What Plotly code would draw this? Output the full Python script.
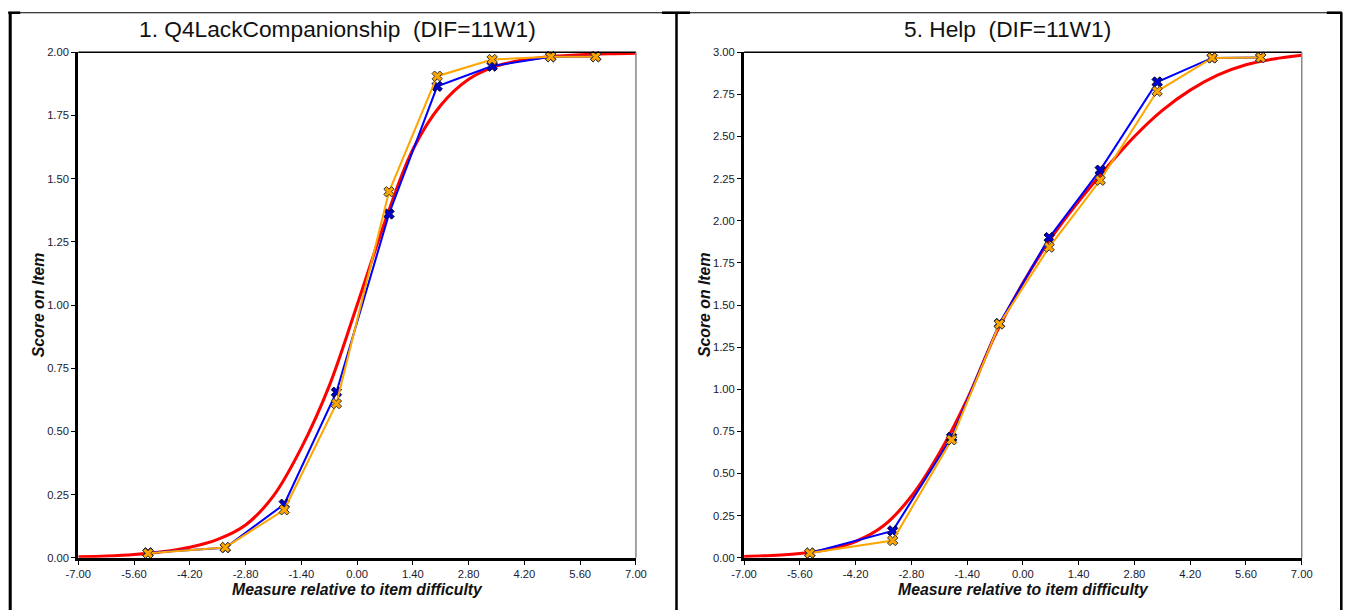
import plotly.graph_objects as go

# ---------------- data ----------------
x_tick_vals = [-7.0, -5.6, -4.2, -2.8, -1.4, 0.0, 1.4, 2.8, 4.2, 5.6, 7.0]
left_y_ticks = [0.0, 0.25, 0.5, 0.75, 1.0, 1.25, 1.5, 1.75, 2.0]
right_y_ticks = [0.0, 0.25, 0.5, 0.75, 1.0, 1.25, 1.5, 1.75, 2.0, 2.25, 2.5, 2.75, 3.0]

left_title = "1. Q4LackCompanionship \u00a0(DIF=11W1)"
right_title = "5. Help \u00a0(DIF=11W1)"
x_title = "Measure relative to item difficulty"
y_title = "Score on Item"

# left panel: observed points
left_x = [-5.25, -3.31, -1.83, -0.52, 0.80, 2.01, 3.39, 4.86, 5.99]
left_blue = [0.020, 0.040, 0.212, 0.655, 1.360, 1.865, 1.945, 1.982, 1.982]
left_orange = [0.018, 0.041, 0.190, 0.610, 1.448, 1.905, 1.971, 1.982, 1.982]
# left panel: model curve
left_curve_x = [-7.0, -6.3, -5.6, -4.9, -4.2, -3.5, -2.8, -2.1, -1.4, -0.7, 0.0,
                0.7, 1.4, 2.1, 2.8, 3.5, 4.2, 4.9, 5.6, 6.3, 7.0]
left_curve_y = [0.004, 0.007, 0.013, 0.024, 0.042, 0.073, 0.130, 0.245, 0.435, 0.680, 1.000,
                1.330, 1.615, 1.790, 1.893, 1.945, 1.970, 1.983, 1.990, 1.994, 1.996]

# right panel: observed points
right_x = [-5.35, -3.27, -1.79, -0.59, 0.66, 1.94, 3.37, 4.75, 5.97]
right_blue = [0.028, 0.160, 0.715, 1.390, 1.900, 2.300, 2.823, 2.966, 2.968]
right_orange = [0.028, 0.103, 0.700, 1.387, 1.843, 2.240, 2.768, 2.966, 2.968]
# right panel: model curve
right_curve_x = [-7.0, -6.3, -5.6, -4.9, -4.2, -3.5, -2.8, -2.1, -1.4, -0.7, 0.0,
                 0.7, 1.4, 2.1, 2.8, 3.5, 4.2, 4.9, 5.6, 6.3, 7.0]
right_curve_y = [0.008, 0.014, 0.026, 0.050, 0.097, 0.190, 0.365, 0.620, 0.940, 1.320, 1.630,
                 1.895, 2.115, 2.315, 2.500, 2.655, 2.775, 2.865, 2.925, 2.960, 2.982]

# ---------------- layout geometry ----------------
W, H = 1346, 610
K = 1 / 0.981          # compensates the slight shrink seen in the rendered page
CX, CY = W / 2, H / 2
def tx(p): return CX + (p - CX) * K
def ty(p): return CY + (p - CY) * K
def px(v): return tx(v) / W
def py(v): return 1 - ty(v) / H
def sz(v): return v * K

L_X0, L_X1 = 78, 635
R_X0, R_X1 = 743, 1300
Y_TOP, Y_BOT = 52, 558

FONT = "Liberation Sans, Arial, sans-serif"
RED, BLUE, ORANGE = "#ff0000", "#0000ff", "#ffa500"

fig = go.Figure()

def add_panel(xs, blue, orange, cx, cy, xa, ya):
    fig.add_trace(go.Scatter(x=cx, y=cy, mode="lines",
                             line=dict(color=RED, width=sz(3), shape="spline", smoothing=1.0),
                             xaxis=xa, yaxis=ya, showlegend=False, hoverinfo="skip"))
    fig.add_trace(go.Scatter(x=xs, y=blue, mode="lines+markers", line=dict(color=BLUE, width=sz(2)),
                             marker=dict(symbol="x", size=sz(9), color="#0000cc", line=dict(color="#000033", width=1)),
                             xaxis=xa, yaxis=ya, showlegend=False, cliponaxis=False))
    fig.add_trace(go.Scatter(x=xs, y=orange, mode="lines+markers", line=dict(color=ORANGE, width=sz(2)),
                             marker=dict(symbol="x", size=sz(9), color=ORANGE, line=dict(color="#333333", width=1)),
                             xaxis=xa, yaxis=ya, showlegend=False, cliponaxis=False))

add_panel(left_x, left_blue, left_orange, left_curve_x, left_curve_y, "x", "y")
add_panel(right_x, right_blue, right_orange, right_curve_x, right_curve_y, "x2", "y2")

tickfont = dict(family=FONT, size=sz(11), color="#1a1a2e")
def xaxis(d0, d1, anchor):
    return dict(domain=[px(d0), px(d1)], range=[-7, 7], anchor=anchor,
                tickmode="array", tickvals=x_tick_vals, ticktext=[f"{v:.2f}" for v in x_tick_vals],
                showgrid=False, zeroline=False, showline=True, linecolor="black", linewidth=sz(3),
                ticks="outside", ticklen=sz(4), tickwidth=1, tickcolor="black", tickfont=tickfont,
                fixedrange=True)
def yaxis(ticks, top, anchor):
    return dict(domain=[py(Y_BOT), py(Y_TOP)], range=[0, top], anchor=anchor,
                tickmode="array", tickvals=ticks, ticktext=[f"{v:.2f}" for v in ticks],
                showgrid=False, zeroline=False, showline=True, linecolor="black", linewidth=sz(3),
                ticks="outside", ticklen=sz(4), tickwidth=1, tickcolor="black", tickfont=tickfont,
                fixedrange=True)

shapes = []
def line(x0, y0, x1, y1, color="black", width=1):
    shapes.append(dict(type="line", xref="paper", yref="paper", x0=px(x0), y0=py(y0), x1=px(x1), y1=py(y1),
                       line=dict(color=color, width=sz(width))))

for x0, x1 in [(L_X0, L_X1), (R_X0, R_X1)]:
    line(x0, Y_TOP, x1, Y_TOP, "black", 1.5)       # top border of plot
    line(x1, Y_TOP, x1, Y_BOT, "#888888", 1.5)     # right border of plot

# outer frame
line(9, 12.5, 1340, 12.5, "black", 1)
line(8, 12.5, 20, 12.5, "black", 2.5)
line(661, 12.5, 689, 12.5, "black", 2.5)
line(1325, 12.5, 1340, 12.5, "black", 2.5)
line(10, 12, 10, 620, "black", 3)
line(675.5, 12, 675.5, 620, "black", 2.5)
line(1339.5, 12, 1339.5, 620, "black", 2.5)

annotations = []
def text(t, x, y, size, bold=False, italic=False, angle=0):
    s = t
    if italic: s = f"<i>{s}</i>"
    if bold: s = f"<b>{s}</b>"
    annotations.append(dict(text=s, xref="paper", yref="paper", x=px(x), y=py(y), showarrow=False,
                            xanchor="center", yanchor="middle", textangle=angle,
                            font=dict(family=FONT, size=sz(size), color="#111111")))

text(left_title, 337, 29, 22.3)
text(right_title, 1006, 29, 22.3)
text(x_title, 357, 590, 15.5, bold=True, italic=True)
text(x_title, 1022, 590, 15.5, bold=True, italic=True)
text(y_title, 38, 305, 15.5, bold=True, italic=True, angle=-90)
text(y_title, 703, 305, 15.5, bold=True, italic=True, angle=-90)

fig.update_layout(
    width=W, height=H, margin=dict(l=0, r=0, t=0, b=0),
    paper_bgcolor="white", plot_bgcolor="white",
    xaxis=xaxis(L_X0, L_X1, "y"), yaxis=yaxis(left_y_ticks, 2.0, "x"),
    xaxis2=xaxis(R_X0, R_X1, "y2"), yaxis2=yaxis(right_y_ticks, 3.0, "x2"),
    shapes=shapes, annotations=annotations, showlegend=False,
)

fig.write_html(
    "out.html",
    config={"displayModeBar": False},
    post_script="document.body.style.margin='0';document.body.style.padding='0';document.body.style.overflow='hidden';",
)
